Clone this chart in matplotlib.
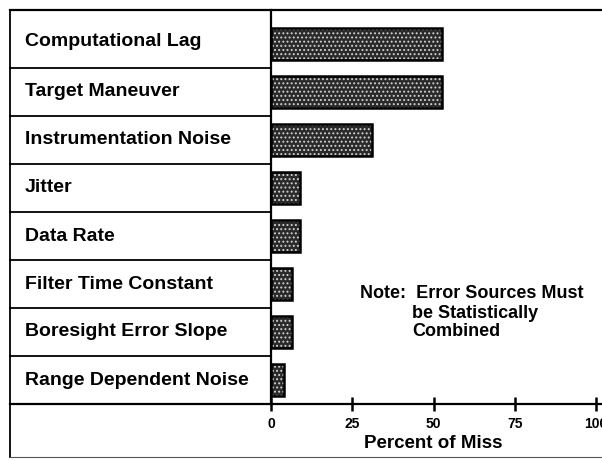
import matplotlib.pyplot as plt
from matplotlib.lines import Line2D

plt.rcParams["font.family"] = ["Liberation Sans", "DejaVu Sans"]
plt.rcParams["font.weight"] = "bold"
plt.rcParams["hatch.linewidth"] = 0.9

sources = ["Computational Lag", "Target Maneuver", "Instrumentation Noise", "Jitter",
           "Data Rate", "Filter Time Constant", "Boresight Error Slope",
           "Range Dependent Noise"]
percent_of_miss = [52.5, 52.5, 31, 9, 9, 6.5, 6.5, 4]
ticks = [0, 25, 50, 75, 100]

W, H = 602, 461
fig = plt.figure(figsize=(W / 100, H / 100), dpi=100)


def fx(px):
    return px / W


def fy(py):
    return 1 - py / H


# plot area in pixel coords
x0, x1 = 271, 596
ytop, ybot = 20, 404
ax = fig.add_axes([fx(x0), fy(ybot), fx(x1) - fx(x0), fy(ytop) - fy(ybot)])
ypos = range(len(sources))
# stippled fill, then a solid black outline on top
ax.barh(ypos, percent_of_miss, height=0.66, color="#2a2a2a",
        edgecolor="#d0d0d0", hatch="....", linewidth=0)
ax.barh(ypos, percent_of_miss, height=0.66, fill=False,
        edgecolor="black", linewidth=1.8)
ax.set_xlim(0, 100)
ax.set_ylim(len(sources) - 0.5, -0.5)
ax.set_yticks([])
for s in ax.spines.values():
    s.set_visible(False)
ax.set_xticks(ticks)
ax.set_xticklabels([str(t) for t in ticks], fontsize=10, fontweight="bold")
ax.tick_params(axis="x", direction="inout", length=10, width=1.8, pad=4)
ax.set_xlabel("Percent of Miss", fontsize=13.5, fontweight="bold", labelpad=3)
ax.patch.set_alpha(0)

# frame and label table
def hline(y, xa, xb, lw=1.3, color="black"):
    fig.add_artist(Line2D([fx(xa), fx(xb)], [fy(y), fy(y)], color=color, lw=lw))


def vline(x, ya, yb, lw=1.3, color="black"):
    fig.add_artist(Line2D([fx(x), fx(x)], [fy(ya), fy(yb)], color=color, lw=lw))


hline(10, 10, 602, lw=1.6)
vline(10, 10, 457)
hline(457, 10, 602, lw=0.8, color="#555555")
vline(x0, 10, ybot, lw=1.6)
hline(ybot, 10, 602, lw=1.6)
row_h = (ybot - ytop) / len(sources)
for i, name in enumerate(sources):
    yc = ytop + (i + 0.5) * row_h
    if i > 0:
        hline(ytop + i * row_h, 10, x0, lw=1.3)
    else:
        yc = 42  # top row is taller, text sits in its middle
    fig.text(fx(25), fy(yc), name, fontsize=14,
             fontweight="bold", ha="left", va="center")

fig.text(fx(360), fy(294), "Note:  Error Sources Must", fontsize=13,
         fontweight="bold", ha="left", va="center")
fig.text(fx(412), fy(313), "be Statistically", fontsize=13,
         fontweight="bold", ha="left", va="center")
fig.text(fx(412), fy(332), "Combined", fontsize=13,
         fontweight="bold", ha="left", va="center")

fig.savefig("out.png", dpi=100)
